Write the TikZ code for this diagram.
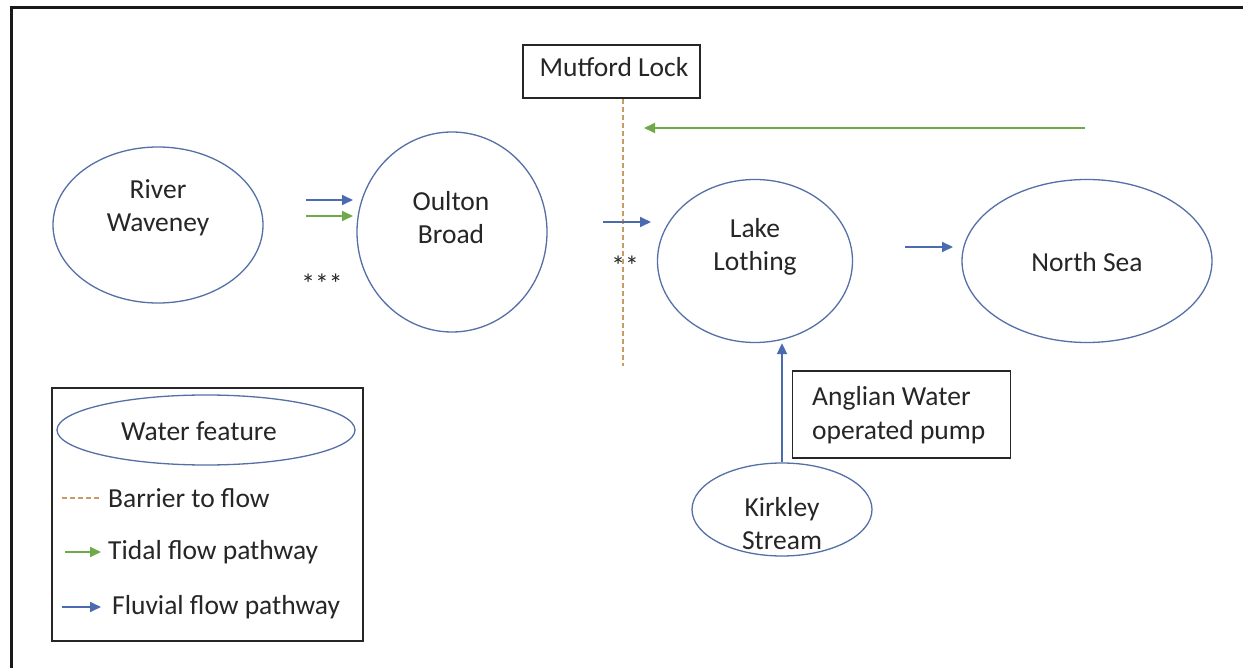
\documentclass[tikz,border=0pt]{standalone}
\usepackage{fontspec}
\setmainfont{Carlito}
\usetikzlibrary{shapes.geometric,arrows.meta}
\definecolor{eline}{HTML}{5470A6}
\definecolor{fblue}{HTML}{4A6BB0}
\definecolor{tgreen}{HTML}{6FA94A}
\definecolor{barrier}{HTML}{C99A62}
\definecolor{txt}{HTML}{262626}
\begin{document}
\begin{tikzpicture}[x=1pt,y=-1pt,
  feat/.style={ellipse,draw=eline,line width=1.3pt,inner sep=0pt},
  ftxt/.style={inner sep=0pt,align=center,font=\fontsize{27.5}{33}\selectfont,text=txt},
  lbox/.style={draw=black!85,line width=1.6pt,inner sep=0pt},
  lbl/.style={inner sep=0pt,font=\fontsize{27.5}{34}\selectfont,text=txt},
  fluv/.style={draw=fblue,line width=1.8pt,-{Triangle[length=11pt,width=10pt]}},
  tidal/.style={draw=tgreen,line width=1.8pt,-{Triangle[length=11pt,width=10pt]}},
  barr/.style={draw=barrier,line width=1.2pt,dash pattern=on 5pt off 3pt}]
\useasboundingbox (0,0) rectangle (1243,668);
\fill[white] (0,0) rectangle (1243,668);
% outer frame (left and top only)
\draw[line width=3pt,black!90] (11,668) -- (11,7.5) -- (1243,7.5);

% water features
\node[feat,minimum width=210pt,minimum height=156pt] (rw) at (158,225) {};
\node[ftxt] (rwt) at (158,208) {River\\Waveney};
\node[feat,minimum width=190pt,minimum height=200pt] (ob) at (452,232) {};
\node[ftxt] (obt) at (451,218) {Oulton\\Broad};
\node[feat,minimum width=195pt,minimum height=163pt] (ll) at (755,261) {};
\node[ftxt] (llt) at (755,247) {Lake\\Lothing};
\node[feat,minimum width=250pt,minimum height=163pt] (ns) at (1087,261) {};
\node[ftxt] (nst) at (1087,262) {North Sea};
\node[feat,minimum width=180pt,minimum height=93pt] (ks) at (782,509.5) {};
\node[ftxt] (kst) at (782,524) {Kirkley\\Stream};

% boxes
\node[lbox,minimum width=177pt,minimum height=53pt] (ml) at (611.5,71.5) {};
\node[lbl] (mlt) at (614,67) {Mutford Lock};
\node[lbox,minimum width=218pt,minimum height=87pt] (aw) at (901.5,414.5) {};
\node[lbl,align=left,anchor=west] (awt) at (812,415) {Anglian Water\\operated pump};

% barrier
\coordinate (bb) at (623,366);
\draw[barr] (ml.south -| bb) -- (bb);

% stars
\node[lbl] (s3) at (322,284) {***};
\node[lbl] (s2) at (625,266) {**};

% flows
\coordinate (a1s) at (306,200); \coordinate (a1e) at (353,200);
\coordinate (a2s) at (306,216); \coordinate (a2e) at (353,216);
\draw[fluv] (a1s) -- (a1e);
\draw[tidal] (a2s) -- (a2e);
\coordinate (b1s) at (603,222); \coordinate (b1e) at (651,222);
\draw[fluv] (b1s) -- (b1e);
\coordinate (c1s) at (905,247); \coordinate (c1e) at (953,247);
\draw[fluv] (c1s) -- (c1e);
\coordinate (gs) at (1085,128); \coordinate (ge) at (644,128);
\draw[tidal] (gs) -- (ge);
\draw[fluv] (ks.north) -- (ll.south -| ks.north);

% legend
\node[lbox,minimum width=311pt,minimum height=253pt] (lg) at (207.5,514.5) {};
\node[feat,minimum width=298pt,minimum height=70pt] (lwf) at (206,430) {};
\node[lbl] (lwft) at (199,431) {Water feature};
\node[lbl,anchor=west] (lb) at (108,498) {Barrier to flow};
\node[lbl,anchor=west] (lt) at (108,552) {Tidal flow pathway};
\node[lbl,anchor=west] (lf) at (112,607) {Fluvial flow pathway};
\coordinate (lbs) at (62,498); \coordinate (lbe) at (100,498);
\draw[barr] (lbs) -- (lbe);
\coordinate (lts) at (65,552); \coordinate (lte) at (101,552);
\draw[tidal] (lts) -- (lte);
\coordinate (lfs) at (62,607); \coordinate (lfe) at (101,607);
\draw[fluv] (lfs) -- (lfe);
\end{tikzpicture}
\end{document}
